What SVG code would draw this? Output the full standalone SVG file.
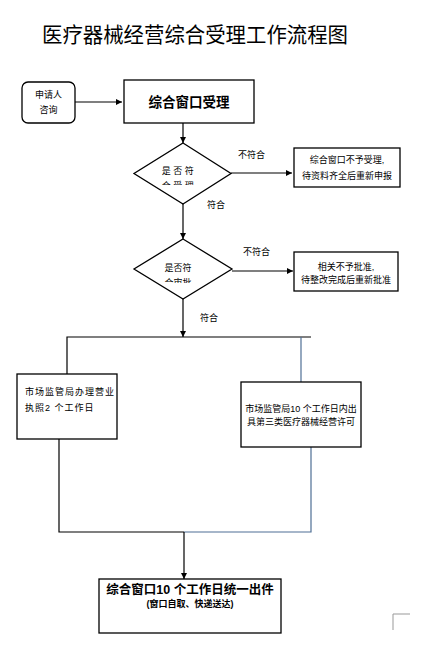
<svg xmlns="http://www.w3.org/2000/svg" width="438" height="646" viewBox="0 0 438 646">
<style>
text{font-family:"Liberation Sans","Noto Sans CJK SC",sans-serif;fill:#000}
.box{fill:#fff;stroke:#000;stroke-width:1.3}
.ln{fill:none;stroke:#000;stroke-width:1.2}
.bl{fill:none;stroke:#4f6f95;stroke-width:1.2}
.s{font-size:9px}
.c{text-anchor:middle}
.b{font-weight:bold}
</style>
<defs>
<marker id="ar" viewBox="0 0 8 8" refX="8" refY="4" markerWidth="6" markerHeight="6" orient="auto" markerUnits="userSpaceOnUse">
<path d="M0,0 L8,4 L0,8 z" fill="#000"/>
</marker>
<clipPath id="cl1"><rect x="140" y="176" width="90" height="9"/></clipPath>
<clipPath id="cl2"><rect x="140" y="273" width="90" height="10"/></clipPath>
</defs>
<rect width="438" height="646" fill="#fff"/>
<text x="42" y="42" font-size="21" textLength="306" lengthAdjust="spacingAndGlyphs">医疗器械经营综合受理工作流程图</text>
<g id="connectors">
<line class="ln" x1="75" y1="102" x2="122" y2="102" marker-end="url(#ar)"/>
<line class="ln" x1="183" y1="123" x2="183" y2="143" marker-end="url(#ar)"/>
<line class="ln" x1="231" y1="173" x2="292" y2="173" marker-end="url(#ar)"/>
<line class="ln" x1="183" y1="204" x2="183" y2="239" marker-end="url(#ar)"/>
<line class="ln" x1="232" y1="271" x2="293" y2="271" marker-end="url(#ar)"/>
<line class="ln" x1="183" y1="299" x2="183" y2="337" marker-end="url(#ar)"/>
<polyline class="ln" points="67,374 67,337 311,337"/>
<line class="bl" x1="301" y1="337" x2="301" y2="382"/>
<polyline class="ln" points="59,439 59,532 184,532"/>
<polyline class="bl" points="311,447 311,532 184,532"/>
<line class="ln" x1="184" y1="532" x2="184" y2="579" marker-end="url(#ar)"/>
<text class="s" x="238" y="158">不符合</text>
<text class="s" x="207" y="208">符合</text>
<text class="s" x="243" y="255">不符合</text>
<text class="s" x="200" y="321">符合</text>
</g>
<g id="applicant">
<rect class="box" x="22" y="82" width="53" height="41" rx="6"/>
<text class="s c" x="48.5" y="98">申请人</text>
<text class="s c" x="48.5" y="113">咨询</text>
</g>
<g id="accept">
<rect class="box" x="124" y="80" width="130" height="43"/>
<text class="c b" x="189" y="107" font-size="13.5">综合窗口受理</text>
</g>
<g id="check1">
<polygon class="box" points="183,143 231,173.5 183,204 134,173.5"/>
<text class="s c" x="179" y="174" letter-spacing="2.5">是否符</text>
<text class="s c" x="179" y="189" letter-spacing="2.5" clip-path="url(#cl1)">合受理</text>
</g>
<g id="reject1">
<rect class="box" x="294" y="148" width="106" height="39"/>
<text class="s c" x="347" y="163">综合窗口不予受理,</text>
<text class="s c" x="347" y="179">待资料齐全后重新申报</text>
</g>
<g id="check2">
<polygon class="box" points="183,239 232,269 183,299 134,269"/>
<text class="s c" x="178" y="271">是否符</text>
<text class="s c" x="178" y="286" clip-path="url(#cl2)">合审批</text>
</g>
<g id="reject2">
<rect class="box" x="294" y="252" width="104" height="39"/>
<text class="s c" x="346" y="270">相关不予批准,</text>
<text class="s c" x="346" y="283">待整改完成后重新批准</text>
</g>
<g id="license">
<rect class="box" x="17" y="374" width="100" height="65"/>
<text class="s" x="25" y="395" letter-spacing="1">市场监管局办理营业</text>
<text class="s" x="25" y="411" letter-spacing="1">执照2 个工作日</text>
</g>
<g id="permit">
<rect class="box" x="241" y="382" width="120" height="65"/>
<text class="s c" x="301" y="412">市场监管局10 个工作日内出</text>
<text class="s c" x="301" y="425">具第三类医疗器械经营许可</text>
</g>
<g id="issue">
<rect class="box" x="99" y="579" width="182" height="54"/>
<text class="c b" x="190" y="594" font-size="12.5">综合窗口10 个工作日统一出件</text>
<text class="c b" x="190" y="607" font-size="9">(窗口自取、快递送达)</text>
</g>
<polyline points="410,614 393,614 393,630" fill="none" stroke="#999" stroke-width="1"/>
</svg>
